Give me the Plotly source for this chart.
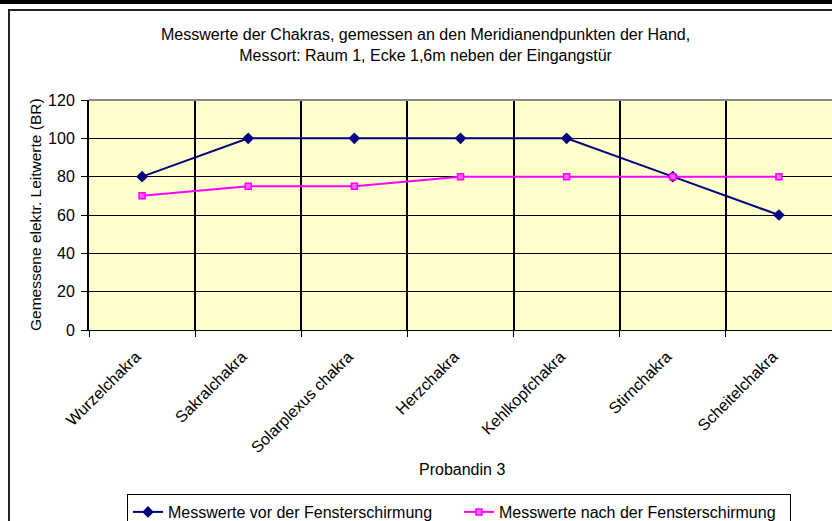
import plotly.graph_objects as go

W, H = 832, 521

categories = ["Wurzelchakra", "Sakralchakra", "Solarplexus chakra", "Herzchakra",
              "Kehlkopfchakra", "Stirnchakra", "Scheitelchakra"]
vor_werte = [80, 100, 100, 100, 100, 80, 60]
nach_werte = [70, 75, 75, 80, 80, 80, 80]

series_names = ["Messwerte vor der Fensterschirmung", "Messwerte nach der Fensterschirmung"]
title_lines = ["Messwerte der Chakras, gemessen an den Meridianendpunkten der Hand,",
               "Messort: Raum 1, Ecke 1,6m neben der Eingangstür"]
y_title = "Gemessene elektr. Leitwerte (BR)"
x_title = "Probandin 3"

FONT = "Liberation Sans, Arial, sans-serif"


def px_x(x):
    return x / W


def px_y(y):
    return 1 - y / H


fig = go.Figure()
fig.add_trace(go.Scatter(
    x=categories, y=vor_werte, name=series_names[0], mode="lines+markers",
    line=dict(color="#000080", width=2),
    marker=dict(symbol="diamond", size=9, color="#000080"),
))
fig.add_trace(go.Scatter(
    x=categories, y=nach_werte, name=series_names[1], mode="lines+markers",
    line=dict(color="#FF00FF", width=2),
    marker=dict(symbol="square", size=6, color="#FF66FF",
                line=dict(color="#FF00FF", width=1.5)),
))

# plot area: x 89..832 px, y 100..330 px
fig.update_layout(
    width=W, height=H,
    margin=dict(l=0, r=0, t=0, b=0, autoexpand=False),
    paper_bgcolor="white",
    plot_bgcolor="#FFFFCC",
    font=dict(family=FONT, size=16, color="black"),
    showlegend=True,
    legend=dict(
        orientation="h",
        x=px_x(127), y=px_y(494), xanchor="left", yanchor="top",
        bordercolor="black", borderwidth=1, bgcolor="white",
        font=dict(size=16, family=FONT),
        entrywidth=286, entrywidthmode="pixels",
        itemwidth=30,
    ),
    xaxis=dict(
        domain=[px_x(89), 1],
        type="category",
        range=[-0.5, 6.5],
        tickson="boundaries",
        showgrid=True, gridcolor="black", gridwidth=2,
        ticks="outside", ticklen=6, tickcolor="black", tickwidth=1,
        tickangle=-45,
        tickfont=dict(size=16, family=FONT),
        ticklabelstandoff=10, ticklabelshift=-6,
        showline=True, linecolor="black", linewidth=1,
        zeroline=False, automargin=False,
    ),
    yaxis=dict(
        domain=[px_y(330), px_y(100)],
        range=[0, 120], dtick=20,
        showgrid=True, gridcolor="black", gridwidth=1,
        ticks="outside", ticklen=6, tickcolor="black", tickwidth=1,
        tickfont=dict(size=16, family=FONT),
        ticklabelstandoff=3,
        showline=True, linecolor="black", linewidth=2,
        zeroline=False, automargin=False,
    ),
    annotations=[
        dict(text=title_lines[0] + "<br>" + title_lines[1],
             x=px_x(425), y=px_y(45), xref="paper", yref="paper",
             xanchor="center", yanchor="middle", showarrow=False,
             font=dict(size=16, family=FONT)),
        dict(text=y_title, textangle=-90,
             x=px_x(35), y=px_y(215), xref="paper", yref="paper",
             xanchor="center", yanchor="middle", showarrow=False,
             font=dict(size=15.5, family=FONT)),
        dict(text=x_title,
             x=px_x(462), y=px_y(469), xref="paper", yref="paper",
             xanchor="center", yanchor="middle", showarrow=False,
             font=dict(size=16, family=FONT)),
    ],
    shapes=[
        # heavy rule along the top edge
        dict(type="rect", xref="paper", yref="paper",
             x0=0, x1=1, y0=px_y(4), y1=1,
             fillcolor="black", line=dict(width=0)),
        # chart frame, top and left
        dict(type="line", xref="paper", yref="paper",
             x0=px_x(8), x1=1, y0=px_y(10), y1=px_y(10),
             line=dict(color="#222222", width=2)),
        dict(type="line", xref="paper", yref="paper",
             x0=px_x(9), x1=px_x(9), y0=px_y(10), y1=0,
             line=dict(color="#222222", width=2)),
        # plot area top edge
        dict(type="line", xref="paper", yref="paper",
             x0=px_x(89), x1=1, y0=px_y(100), y1=px_y(100),
             line=dict(color="#888888", width=2)),
    ],
)

fig.write_html("out.html")
